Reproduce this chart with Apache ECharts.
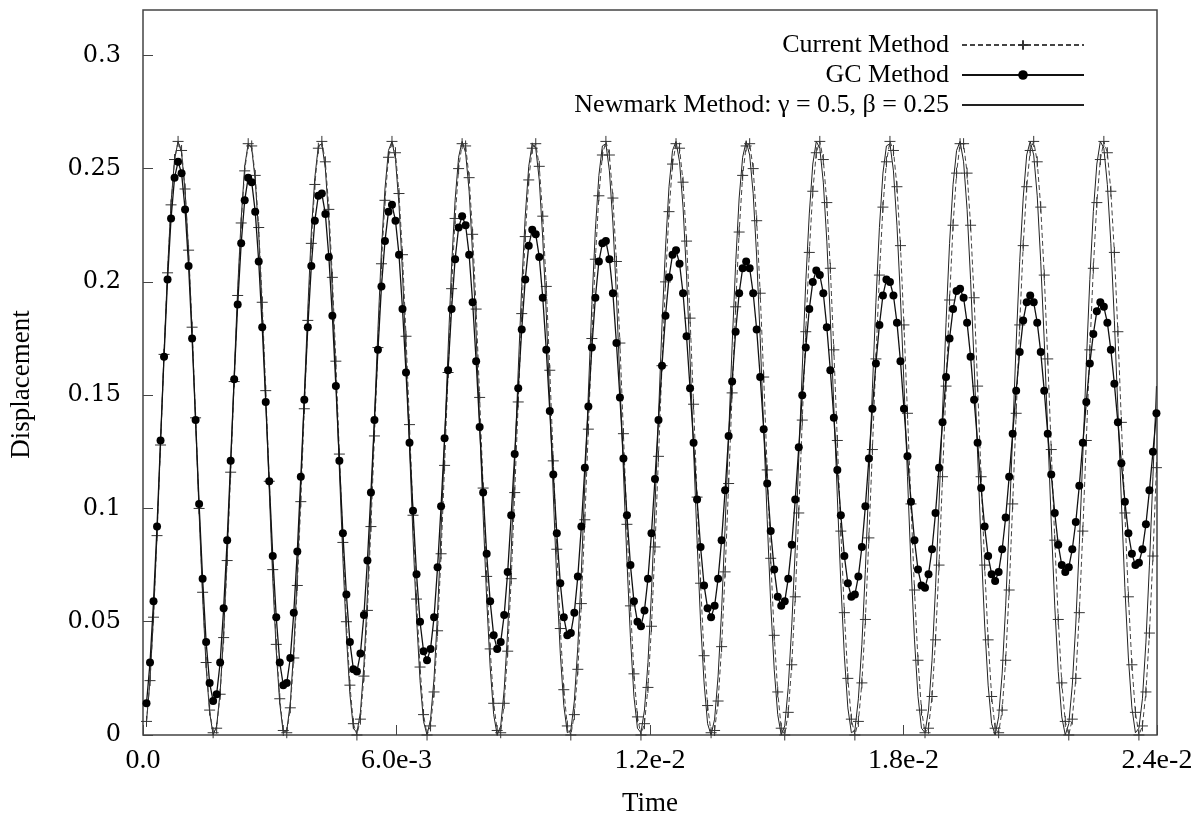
<!DOCTYPE html>
<html>
<head>
<meta charset="utf-8">
<title>Displacement vs Time</title>
<script src="https://cdn.jsdelivr.net/npm/echarts@6/dist/echarts.min.js"></script>
<style>
  html, body { margin: 0; padding: 0; background: #fff; }
  #chart { width: 1201px; height: 822px; }
</style>
</head>
<body>
<div id="chart"></div>
<script>
// sampling step of the three time histories (s); first sample is at t = timeStep
var timeStep = 8.3e-5;

var xTickStep = 0.006;
var xTickLabels = ['0.0', '6.0e-3', '1.2e-2', '1.8e-2', '2.4e-2'];
var yTickStep = 0.05;
var yTickLabels = ['0', '0.05', '0.1', '0.15', '0.2', '0.25', '0.3'];

var seriesNames = ['Current Method', 'GC Method', 'Newmark Method: \u03b3 = 0.5, \u03b2 = 0.25'];

// Newmark method, gamma = 0.5, beta = 0.25 (solid line)
var newmarkDisp = [
    0.006, 0.024, 0.053, 0.089, 0.129, 0.169, 0.205, 0.235, 0.254,
    0.262, 0.257, 0.240, 0.213, 0.178, 0.138, 0.098, 0.061, 0.030, 0.010,
    0.000, 0.004, 0.019, 0.045, 0.080, 0.119, 0.159, 0.197, 0.228, 0.251,
    0.261, 0.259, 0.245, 0.221, 0.187, 0.148, 0.108, 0.069, 0.037, 0.014,
    0.001, 0.002, 0.014, 0.038, 0.071, 0.109, 0.150, 0.188, 0.222, 0.246,
    0.260, 0.261, 0.250, 0.227, 0.196, 0.158, 0.117, 0.078, 0.044, 0.018,
    0.003, 0.001, 0.010, 0.031, 0.062, 0.100, 0.140, 0.179, 0.214, 0.241,
    0.258, 0.262, 0.254, 0.234, 0.204, 0.167, 0.127, 0.087, 0.052, 0.024,
    0.006, 0.000, 0.007, 0.025, 0.054, 0.090, 0.130, 0.170, 0.207, 0.236,
    0.255, 0.262, 0.257, 0.240, 0.212, 0.177, 0.137, 0.097, 0.060, 0.030,
    0.009, 0.000, 0.004, 0.020, 0.046, 0.081, 0.120, 0.161, 0.198, 0.229,
    0.251, 0.261, 0.259, 0.245, 0.219, 0.186, 0.147, 0.106, 0.068, 0.036,
    0.013, 0.001, 0.002, 0.015, 0.039, 0.072, 0.111, 0.151, 0.190, 0.223,
    0.247, 0.260, 0.261, 0.249, 0.226, 0.194, 0.156, 0.116, 0.077, 0.043,
    0.017, 0.003, 0.001, 0.011, 0.032, 0.063, 0.101, 0.141, 0.181, 0.215,
    0.242, 0.258, 0.262, 0.253, 0.233, 0.203, 0.166, 0.126, 0.086, 0.050,
    0.023, 0.005, 0.000, 0.007, 0.026, 0.055, 0.092, 0.132, 0.172, 0.208,
    0.237, 0.255, 0.262, 0.256, 0.239, 0.211, 0.175, 0.135, 0.095, 0.058,
    0.029, 0.009, 0.000, 0.004, 0.021, 0.048, 0.082, 0.122, 0.162, 0.200,
    0.230, 0.252, 0.262, 0.259, 0.244, 0.218, 0.184, 0.145, 0.105, 0.067,
    0.035, 0.012, 0.001, 0.002, 0.016, 0.040, 0.073, 0.112, 0.153, 0.191,
    0.224, 0.248, 0.260, 0.261, 0.249, 0.225, 0.193, 0.155, 0.114, 0.075,
    0.042, 0.017, 0.003, 0.001, 0.011, 0.033, 0.065, 0.102, 0.143, 0.182,
    0.217, 0.243, 0.258, 0.262, 0.253, 0.232, 0.201, 0.164, 0.124, 0.084,
    0.049, 0.022, 0.005, 0.000, 0.008, 0.027, 0.057, 0.093, 0.133, 0.173,
    0.209, 0.237, 0.256, 0.262, 0.256, 0.238, 0.209, 0.174, 0.134, 0.094,
    0.057, 0.028, 0.008, 0.000, 0.005, 0.022, 0.049, 0.084, 0.123, 0.164,
    0.201, 0.231, 0.252, 0.262, 0.259, 0.243, 0.217, 0.183, 0.144, 0.103,
    0.065, 0.034, 0.012, 0.001, 0.003, 0.016, 0.041, 0.075, 0.114, 0.154
];

// current method (dashed line, + marks) - lags a little behind Newmark late on
var currentDisp = [
    0.006, 0.024, 0.052, 0.088, 0.128, 0.168, 0.204, 0.234, 0.254,
    0.262, 0.258, 0.241, 0.214, 0.180, 0.140, 0.100, 0.063, 0.032, 0.011,
    0.001, 0.003, 0.018, 0.043, 0.077, 0.116, 0.156, 0.194, 0.226, 0.249,
    0.261, 0.260, 0.247, 0.224, 0.191, 0.152, 0.112, 0.073, 0.040, 0.016,
    0.002, 0.001, 0.012, 0.034, 0.066, 0.103, 0.144, 0.183, 0.217, 0.243,
    0.259, 0.262, 0.253, 0.232, 0.202, 0.165, 0.124, 0.085, 0.050, 0.022,
    0.005, 0.000, 0.007, 0.026, 0.055, 0.092, 0.132, 0.171, 0.208, 0.236,
    0.255, 0.262, 0.257, 0.239, 0.212, 0.176, 0.137, 0.097, 0.060, 0.030,
    0.009, 0.000, 0.004, 0.019, 0.046, 0.080, 0.119, 0.160, 0.197, 0.228,
    0.250, 0.261, 0.260, 0.246, 0.221, 0.188, 0.149, 0.109, 0.070, 0.038,
    0.014, 0.002, 0.001, 0.014, 0.037, 0.069, 0.107, 0.147, 0.186, 0.220,
    0.245, 0.259, 0.261, 0.251, 0.229, 0.198, 0.161, 0.121, 0.082, 0.047,
    0.020, 0.004, 0.000, 0.009, 0.029, 0.058, 0.095, 0.135, 0.175, 0.210,
    0.238, 0.256, 0.262, 0.256, 0.237, 0.209, 0.173, 0.133, 0.093, 0.057,
    0.027, 0.008, 0.000, 0.005, 0.021, 0.048, 0.083, 0.123, 0.163, 0.200,
    0.231, 0.252, 0.261, 0.259, 0.244, 0.218, 0.184, 0.146, 0.105, 0.067,
    0.035, 0.013, 0.001, 0.002, 0.015, 0.039, 0.072, 0.111, 0.151, 0.189,
    0.222, 0.247, 0.260, 0.261, 0.250, 0.227, 0.195, 0.158, 0.117, 0.078,
    0.044, 0.019, 0.003, 0.000, 0.010, 0.031, 0.061, 0.098, 0.139, 0.178,
    0.213, 0.240, 0.257, 0.262, 0.254, 0.235, 0.206, 0.170, 0.130, 0.090,
    0.054, 0.025, 0.007, 0.000, 0.006, 0.023, 0.051, 0.087, 0.126, 0.166,
    0.203, 0.233, 0.253, 0.262, 0.258, 0.242, 0.216, 0.181, 0.142, 0.102,
    0.064, 0.033, 0.011, 0.001, 0.003, 0.017, 0.042, 0.075, 0.114, 0.154,
    0.192, 0.225, 0.248, 0.261, 0.261, 0.248, 0.225, 0.193, 0.154, 0.114,
    0.075, 0.042, 0.017, 0.003, 0.001, 0.011, 0.033, 0.064, 0.102, 0.142,
    0.181, 0.216, 0.242, 0.258, 0.262, 0.253, 0.233, 0.203, 0.166, 0.126,
    0.086, 0.051, 0.023, 0.006, 0.000, 0.007, 0.025, 0.054, 0.090, 0.130,
    0.170, 0.206, 0.235, 0.254, 0.262, 0.257, 0.240, 0.213, 0.178, 0.138,
    0.098, 0.061, 0.031, 0.010, 0.000, 0.004, 0.019, 0.045, 0.079, 0.118
];

// GC method (solid line, filled dots) - amplitude dies away
var gcDisp = [
    0.014, 0.032, 0.059, 0.092, 0.130, 0.167, 0.201, 0.228, 0.246,
    0.253, 0.248, 0.232, 0.207, 0.175, 0.139, 0.102, 0.069, 0.041, 0.023,
    0.015, 0.018, 0.032, 0.056, 0.086, 0.121, 0.157, 0.190, 0.217, 0.236,
    0.246, 0.244, 0.231, 0.209, 0.180, 0.147, 0.112, 0.079, 0.052, 0.032,
    0.022, 0.023, 0.034, 0.054, 0.081, 0.114, 0.148, 0.180, 0.207, 0.227,
    0.238, 0.239, 0.230, 0.211, 0.185, 0.154, 0.121, 0.089, 0.062, 0.041,
    0.029, 0.028, 0.036, 0.053, 0.077, 0.107, 0.139, 0.170, 0.198, 0.218,
    0.231, 0.234, 0.227, 0.212, 0.188, 0.160, 0.129, 0.099, 0.071, 0.050,
    0.037, 0.033, 0.038, 0.052, 0.074, 0.101, 0.131, 0.161, 0.188, 0.210,
    0.224, 0.229, 0.225, 0.212, 0.191, 0.165, 0.136, 0.107, 0.080, 0.059,
    0.044, 0.038, 0.041, 0.053, 0.072, 0.097, 0.124, 0.153, 0.179, 0.201,
    0.216, 0.223, 0.221, 0.211, 0.193, 0.170, 0.143, 0.115, 0.089, 0.067,
    0.052, 0.044, 0.045, 0.054, 0.070, 0.092, 0.118, 0.145, 0.171, 0.193,
    0.209, 0.217, 0.218, 0.210, 0.195, 0.173, 0.149, 0.122, 0.097, 0.075,
    0.059, 0.050, 0.048, 0.055, 0.069, 0.089, 0.113, 0.139, 0.163, 0.185,
    0.202, 0.212, 0.214, 0.208, 0.195, 0.176, 0.153, 0.129, 0.104, 0.083,
    0.066, 0.056, 0.052, 0.057, 0.069, 0.086, 0.108, 0.132, 0.156, 0.178,
    0.195, 0.206, 0.209, 0.206, 0.195, 0.179, 0.158, 0.135, 0.111, 0.090,
    0.073, 0.061, 0.057, 0.059, 0.069, 0.084, 0.104, 0.127, 0.150, 0.171,
    0.188, 0.200, 0.205, 0.203, 0.195, 0.180, 0.161, 0.140, 0.117, 0.097,
    0.079, 0.067, 0.061, 0.062, 0.070, 0.083, 0.101, 0.122, 0.144, 0.164,
    0.181, 0.194, 0.201, 0.200, 0.194, 0.182, 0.165, 0.144, 0.123, 0.103,
    0.086, 0.073, 0.066, 0.065, 0.071, 0.082, 0.098, 0.118, 0.138, 0.158,
    0.175, 0.188, 0.196, 0.197, 0.193, 0.182, 0.167, 0.148, 0.129, 0.109,
    0.092, 0.079, 0.071, 0.068, 0.072, 0.082, 0.096, 0.114, 0.133, 0.152,
    0.169, 0.183, 0.191, 0.194, 0.191, 0.182, 0.169, 0.152, 0.133, 0.115,
    0.098, 0.084, 0.075, 0.072, 0.074, 0.082, 0.094, 0.110, 0.129, 0.147,
    0.164, 0.177, 0.187, 0.191, 0.189, 0.182, 0.170, 0.155, 0.138, 0.120,
    0.103, 0.089, 0.080, 0.075, 0.076, 0.082, 0.093, 0.108, 0.125, 0.142
];

function withTime(values) {
    return values.map(function(v, i) {
        return [(i + 1) * timeStep, v];
    });
}

var serifFont = '"Liberation Serif", "Times New Roman", serif';
var plusMark = 'path://M5,0L5,10M0,5L10,5';

function legendFor(item, top) {
    return {
        data: [item],
        top: top,
        right: 116,
        orient: 'vertical',
        align: 'right',
        padding: 0,
        itemWidth: 122,
        itemHeight: 12,
        selectedMode: false,
        textStyle: {
            fontFamily: serifFont,
            fontSize: 26,
            color: '#000',
            padding: [0, 8, 0, 0]
        }
    };
}

var chart = echarts.init(document.getElementById('chart'));

var option = {
    animation: false,
    backgroundColor: '#fff',
    grid: {
        left: 143,
        right: 44,
        top: 10,
        bottom: 87,
        show: true,
        borderColor: '#444',
        borderWidth: 1.5,
        backgroundColor: 'transparent'
    },
    legend: [
        legendFor(seriesNames[0], 32),
        legendFor(seriesNames[1], 62),
        // solid line only, no marker in the key
        legendFor({
            name: seriesNames[2],
            itemStyle: { color: 'rgba(0,0,0,0)', borderWidth: 0 }
        }, 92)
    ],
    xAxis: {
        type: 'value',
        min: 0,
        max: 0.024,
        interval: xTickStep,
        name: 'Time',
        nameLocation: 'middle',
        nameGap: 55,
        nameTextStyle: { fontFamily: serifFont, fontSize: 27, color: '#000' },
        axisLine: { show: false },
        axisTick: { inside: true, length: 10, lineStyle: { color: '#444' } },
        splitLine: { show: false },
        axisLabel: {
            margin: 12,
            fontFamily: serifFont,
            fontSize: 28,
            color: '#000',
            formatter: function(v) {
                var k = Math.round(v / xTickStep);
                return Math.abs(v - k * xTickStep) < 1e-9 ? xTickLabels[k] : '';
            }
        }
    },
    yAxis: {
        type: 'value',
        min: 0,
        max: 0.32,
        interval: yTickStep,
        name: 'Displacement',
        nameLocation: 'middle',
        nameGap: 108,
        nameTextStyle: {
            fontFamily: serifFont,
            fontSize: 27,
            color: '#000',
            padding: [0, 24, 0, 0]
        },
        axisLine: { show: false },
        axisTick: { inside: true, length: 10, lineStyle: { color: '#444' } },
        splitLine: { show: false },
        axisLabel: {
            margin: 22,
            showMaxLabel: false,
            fontFamily: '"DejaVu Serif", serif',
            fontSize: 24,
            color: '#000',
            formatter: function(v) {
                var k = Math.round(v / yTickStep);
                return Math.abs(v - k * yTickStep) < 1e-9 ? yTickLabels[k] : '';
            }
        }
    },
    series: [
        {
            name: seriesNames[2],
            type: 'line',
            data: withTime(newmarkDisp),
            symbol: 'none',
            z: 2,
            itemStyle: { color: '#222' },
            lineStyle: { color: '#222', width: 1 }
        },
        {
            name: seriesNames[0],
            type: 'line',
            data: withTime(currentDisp),
            symbol: plusMark,
            symbolSize: 11,
            z: 3,
            itemStyle: { color: 'rgba(0,0,0,0)', borderColor: '#333', borderWidth: 1 },
            lineStyle: { color: '#444', width: 1, type: [5, 3] }
        },
        {
            name: seriesNames[1],
            type: 'line',
            data: withTime(gcDisp),
            symbol: 'circle',
            symbolSize: 8,
            z: 4,
            itemStyle: { color: '#000' },
            lineStyle: { color: '#111', width: 1.3 }
        }
    ]
};

chart.setOption(option);
</script>
</body>
</html>
